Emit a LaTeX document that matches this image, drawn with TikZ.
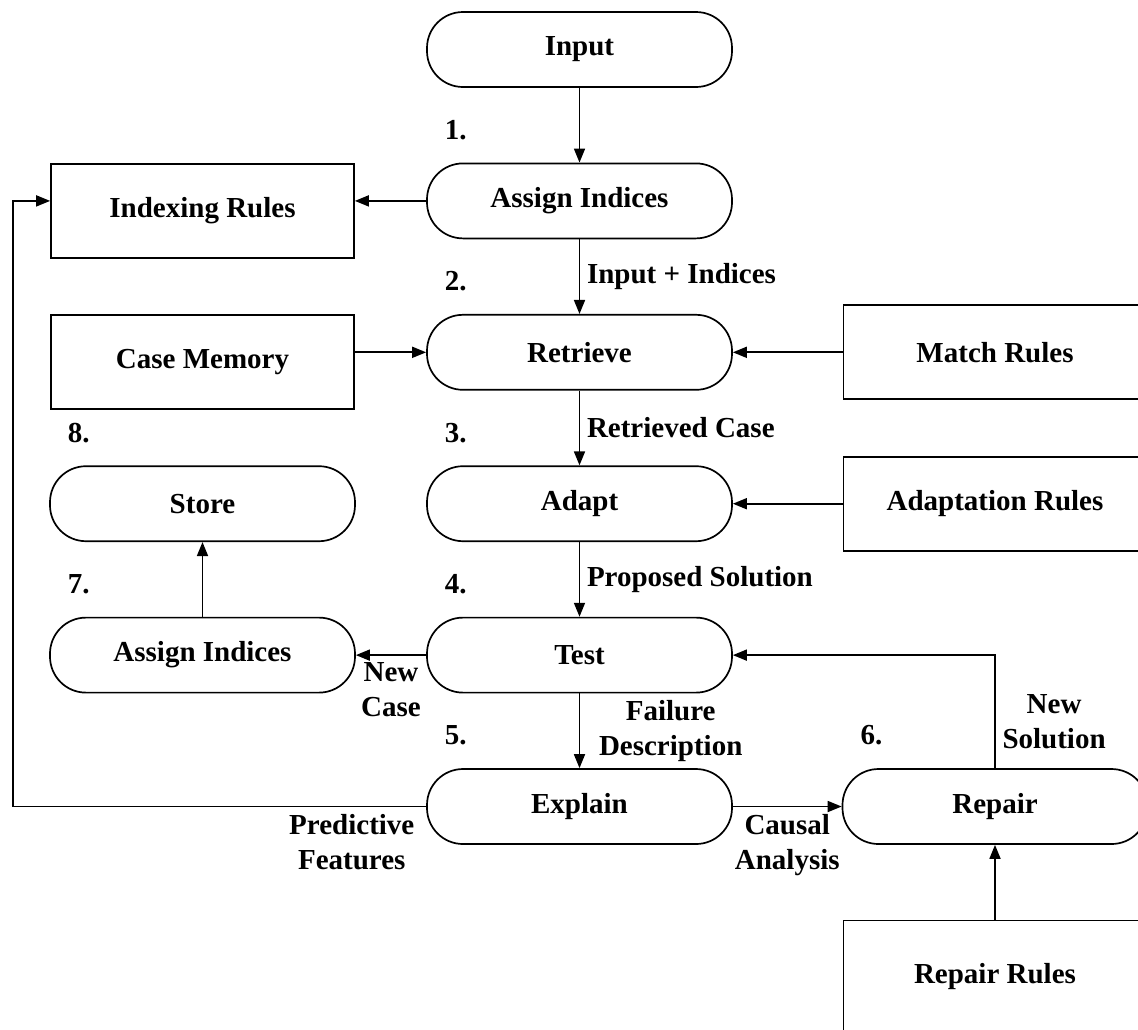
\documentclass[tikz,border=0pt]{standalone}
\usepackage{fontspec}
\setmainfont{Liberation Serif}
\usetikzlibrary{shapes,arrows.meta,positioning}

\tikzset{
  stage/.style={draw, rectangle, rounded corners=18pt, minimum width=152.5pt, minimum height=37.5pt},
  rulebox/.style={draw, rectangle, minimum width=151.5pt, minimum height=47pt},
  num/.style={inner sep=0pt}
}

\begin{document}
\begin{tikzpicture}[node distance=75.7pt,on grid,line width=0.85pt,
    >={Triangle[length=7pt,width=5.5pt]},
    font=\fontsize{14.5}{17.5}\selectfont\bfseries]
      \useasboundingbox (-289.75pt,24.75pt) rectangle (279.25pt,-489.75pt);

      % main cycle
      \node[stage] (input) {Input};
      \node[stage] (assign) [below=of input] {Assign Indices};
      \node[stage] (retrieve) [below=of assign] {Retrieve};
      \node[stage] (adapt) [below=of retrieve] {Adapt};
      \node[stage] (test) [below=of adapt] {Test};
      \node[stage] (explain) [below=of test] {Explain};
      \node[stage] (repair) [right=207.75pt of explain] {Repair};
      \node[stage] (store) [left=188.5pt of adapt] {Store};
      \node[stage] (assignb) [left=188.5pt of test] {Assign Indices};

      % knowledge sources
      \node[rulebox] (idxrules) [below left=5pt and 188.5pt of assign] {Indexing Rules};
      \node[rulebox] (casemem) [below left=5pt and 188.5pt of retrieve] {Case Memory};
      \node[rulebox] (match) [right=207.75pt of retrieve] {Match Rules};
      \node[rulebox] (adaptrules) [right=207.75pt of adapt] {Adaptation Rules};
      \node[rulebox,minimum height=56pt] (repairrules) [below=85pt of repair] {Repair Rules};

      % step numbers
      \node[num] (n1) [above right=11pt and 9pt of assign.north west] {1.};
      \node[num] (n2) [above right=11pt and 9pt of retrieve.north west] {2.};
      \node[num] (n3) [above right=11pt and 9pt of adapt.north west] {3.};
      \node[num] (n4) [above right=11pt and 9pt of test.north west] {4.};
      \node[num] (n5) [above right=11pt and 9pt of explain.north west] {5.};
      \node[num] (n6) [above right=11pt and 9pt of repair.north west] {6.};
      \node[num] (n7) [above right=11pt and 9pt of assignb.north west] {7.};
      \node[num] (n8) [above right=11pt and 9pt of store.north west] {8.};

      \coordinate (fb) at (-283.25pt,0pt);

      \path[->] (input) edge node {} (assign);
      \path[->] (assign) edge node[right] {Input + Indices} (retrieve);
      \path[->] (retrieve) edge node[right] {Retrieved Case} (adapt);
      \path[->] (adapt) edge node[right] {Proposed Solution} (test);
      \path[->] (test) edge node[right,xshift=6pt,align=center] {Failure\\Description} (explain);
      \path[->] (test) edge node[below,align=center] {New\\Case} (assignb);
      \path[->] (assignb) edge node {} (store);
      \path[->] (explain) edge node[below,align=center] {Causal\\Analysis} (repair);
      \path[->] (match) edge node {} (retrieve);
      \path[->] (adaptrules) edge node {} (adapt);
      \path[->] (repairrules) edge node {} (repair);
      \draw[->] (assign.west) -- (assign.west -| idxrules.east);
      \draw[->] (casemem.east |- retrieve) -- (retrieve.west);
      \draw[->] (repair.north) -- node[right,align=center,pos=0.41] {New\\Solution} (repair.north |- test) -- (test.east);
      \draw[->] (explain.west) -- node[below,align=center,pos=0.18] {Predictive\\Features} (explain.west -| fb)
        -- (fb |- assign) -- (assign -| idxrules.west);
    \end{tikzpicture}
\end{document}
